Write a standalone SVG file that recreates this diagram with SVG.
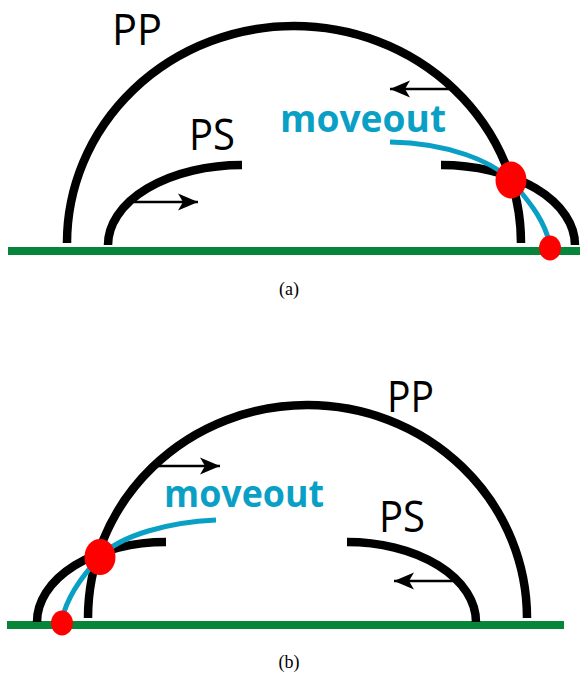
<svg xmlns="http://www.w3.org/2000/svg" width="580" height="682" viewBox="0 0 580 682">
<style>
.ground{stroke:#07853a;stroke-width:8;fill:none}
.ray{stroke:#000;stroke-width:8.5;fill:none;stroke-linecap:butt}
.mv{stroke:#0aa0c6;stroke-width:5;fill:none;stroke-linecap:butt}
.arr{stroke:#000;stroke-width:2.5;fill:none}
.dot{fill:#ff0000}
.lbl{font-family:"Open Sans","Noto Sans",sans-serif;font-size:44px;fill:#000}
.mvt{font-family:"Open Sans","Noto Sans",sans-serif;font-weight:bold;font-size:38px;fill:#0aa0c6}
.cap{font-family:"Liberation Serif","DejaVu Serif",serif;font-size:18px;fill:#000;text-anchor:middle}
</style>
<defs>
<marker id="ah" markerUnits="userSpaceOnUse" markerWidth="22" markerHeight="20" viewBox="0 -10 22 20" refX="20" refY="0" orient="auto">
<path d="M20,0 L0,-8.5 L5,0 L0,8.5 Z" fill="#000"/>
</marker>
</defs>

<!-- Panel (a) -->
<g id="a-ground"><line class="ground" x1="8" y1="251" x2="580" y2="251"/></g>
<g id="a-PP"><path class="ray" d="M67,243 A227,217 0 0 1 521,243"/><text class="lbl" x="112" y="45" textLength="50" lengthAdjust="spacingAndGlyphs">PP</text></g>
<g id="a-PS-left"><path class="ray" d="M108,245 A134,80 0 0 1 242,165"/><text class="lbl" x="189" y="150" textLength="46" lengthAdjust="spacingAndGlyphs">PS</text></g>
<g id="a-PS-right"><path class="ray" d="M441,165 A134,80 0 0 1 575,245"/></g>
<g id="a-moveout"><path class="mv" d="M390,142 C445,143 495,160 515,185 C532,205 545,222 550,245"/><text class="mvt" x="280" y="132" textLength="166" lengthAdjust="spacingAndGlyphs">moveout</text></g>
<g id="a-dots"><ellipse class="dot" cx="511" cy="180" rx="15.5" ry="18.5"/><ellipse class="dot" cx="550" cy="248" rx="11" ry="12.5"/></g>
<g id="a-connectors">
<line class="arr" x1="452" y1="89" x2="390" y2="89" marker-end="url(#ah)"/>
<line class="arr" x1="134" y1="202" x2="198" y2="202" marker-end="url(#ah)"/>
</g>
<text class="cap" x="289" y="295">(a)</text>

<!-- Panel (b) -->
<g id="b-ground"><line class="ground" x1="7" y1="625" x2="564" y2="625"/></g>
<g id="b-PP"><path class="ray" d="M88,618 A219.5,213 0 0 1 527,618"/><text class="lbl" x="387" y="412" textLength="47" lengthAdjust="spacingAndGlyphs">PP</text></g>
<g id="b-PS-left"><path class="ray" d="M37,622 A129,80 0 0 1 166,542"/></g>
<g id="b-PS-right"><path class="ray" d="M347,542 A129,80 0 0 1 476,622"/><text class="lbl" x="379" y="532" textLength="46" lengthAdjust="spacingAndGlyphs">PS</text></g>
<g id="b-moveout"><path class="mv" d="M216,520 C170,522 120,535 100,557 C80,578 66,600 62,620"/><text class="mvt" x="164" y="507" textLength="160" lengthAdjust="spacingAndGlyphs">moveout</text></g>
<g id="b-dots"><ellipse class="dot" cx="100" cy="557" rx="15.5" ry="18"/><ellipse class="dot" cx="62" cy="623" rx="11" ry="12.5"/></g>
<g id="b-connectors">
<line class="arr" x1="156" y1="466" x2="220" y2="466" marker-end="url(#ah)"/>
<line class="arr" x1="454" y1="581" x2="394" y2="581" marker-end="url(#ah)"/>
</g>
<text class="cap" x="289" y="668">(b)</text>
</svg>
